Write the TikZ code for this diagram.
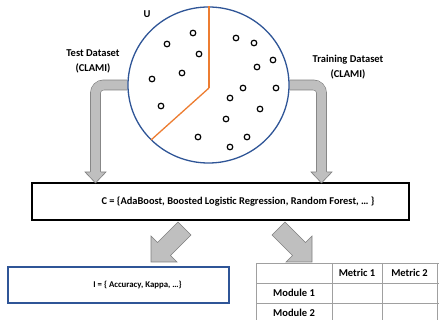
\documentclass[tikz,border=0pt]{standalone}
\usepackage{fontspec}
\setmainfont{Carlito}
\usetikzlibrary{calc,shapes.geometric,backgrounds}
\definecolor{ublue}{HTML}{2F5597}
\definecolor{uorange}{HTML}{ED7D31}
\definecolor{afill}{HTML}{BFBFBF}
\definecolor{aline}{HTML}{7F7F7F}
\definecolor{tline}{HTML}{A0A0A0}
\begin{document}
\begin{tikzpicture}[x=1pt,y=-1pt,
  lbl/.style={font=\fontsize{10.5}{14.5}\selectfont\bfseries, inner sep=0pt, align=center},
  dot/.style={circle, draw=black, line width=1.2pt, minimum size=5.6pt, inner sep=0pt},
  blk/.style={fill=afill, draw=aline, line width=0.6pt, line join=miter},
  band/.style={double=afill, draw=aline, line width=0.6pt, double distance=9.4pt, rounded corners=8pt},
  tl/.style={draw=tline, line width=0.8pt}]
\useasboundingbox (0,0) rectangle (439,320);
% universe
\node[ellipse, draw=ublue, line width=1.3pt, fill=white, minimum width=161pt, minimum height=156pt, inner sep=0pt] (U) at (208.5,85) {};
\node[lbl] (ulbl) at (147,14) {U};
\coordinate (uc) at (209,88);
\coordinate (ucut) at (151,140);
\draw[uorange, line width=1.3pt] (uc) -- (uc |- U.north);
\draw[uorange, line width=1.3pt] (uc) -- (ucut);
% instances
\foreach \p [count=\i] in {(193,33),(167,44),(199,54),(182,73),(152,79),(161,106),(198,137),(236,38),(254,43),(273,60),(257,67),(243,88),(276,88),(230,98),(260,109),(226,119),(247,137),(230,147)}
  \node[dot] (d\i) at \p {};
% labels
\node[lbl] (test) at (93,61.5) {Test Dataset\\(CLAMI)};
\node[lbl] (train) at (348,67) {Training Dataset\\(CLAMI)};
% classifier box
\node[draw=black, line width=1.3pt, minimum width=377pt, minimum height=37pt, inner sep=0pt] (cbox) at (220.5,201.5) {};
\node[lbl, font=\fontsize{10.4}{12}\selectfont\bfseries] (ctext) at (238,201.5) {C = \{AdaBoost, Boosted Logistic Regression, Random Forest, … \}};
\coordinate (lt) at (95.5,183);
\coordinate (rt) at (321.5,183);
% bent arrows
\begin{scope}[on background layer]
\draw[band] (U.west) -| ([yshift=11pt]lt);
\draw[band] (U.east) -| ([yshift=11pt]rt);
\end{scope}
\filldraw[blk] ([xshift=-5.3pt,yshift=11pt]lt) -- ([xshift=-10.5pt,yshift=11pt]lt) -- (lt) -- ([xshift=10.5pt,yshift=11pt]lt) -- ([xshift=5.3pt,yshift=11pt]lt);
\filldraw[blk] ([xshift=-5.3pt,yshift=11pt]rt) -- ([xshift=-10.5pt,yshift=11pt]rt) -- (rt) -- ([xshift=10.5pt,yshift=11pt]rt) -- ([xshift=5.3pt,yshift=11pt]rt);
% diagonal arrows
\coordinate (dl) at (151,262);
\coordinate (dr) at (312,262);
\filldraw[blk] ($(dl)+(27,-40)$) -- ($(dl)+(40,-27)$) -- ($(dl)+(19.5,-6.5)$) -- ($(dl)+(26,0)$) -- (dl) -- ($(dl)+(0,-26)$) -- ($(dl)+(6.5,-19.5)$) -- cycle;
\filldraw[blk] ($(dr)+(-27,-40)$) -- ($(dr)+(-40,-27)$) -- ($(dr)+(-19.5,-6.5)$) -- ($(dr)+(-26,0)$) -- (dr) -- ($(dr)+(0,-26)$) -- ($(dr)+(-6.5,-19.5)$) -- cycle;
% indicator box
\node[draw=ublue, line width=1.3pt, minimum width=221pt, minimum height=36pt, inner sep=0pt] (ibox) at (118.5,285) {};
\node[lbl, font=\fontsize{8.8}{10}\selectfont\bfseries] (itext) at (137.5,285) {I = \{ Accuracy, Kappa, …\}};
% table
\coordinate (t0) at (256,263);
\draw[tl] (256,263) -- (439,263);
\draw[tl] (256,283) -- (439,283);
\draw[tl] (256,303) -- (439,303);
\draw[tl] (256,263) -- (256,320);
\draw[tl] (332,263) -- (332,320);
\draw[tl] (382,263) -- (382,320);
\draw[tl] (437,263) -- (437,320);
\node[lbl] (m1) at (357,273) {Metric 1};
\node[lbl] (m2) at (409.5,273) {Metric 2};
\node[lbl] (r1) at (294,293) {Module 1};
\node[lbl] (r2) at (294,312.5) {Module 2};
\end{tikzpicture}
\end{document}
